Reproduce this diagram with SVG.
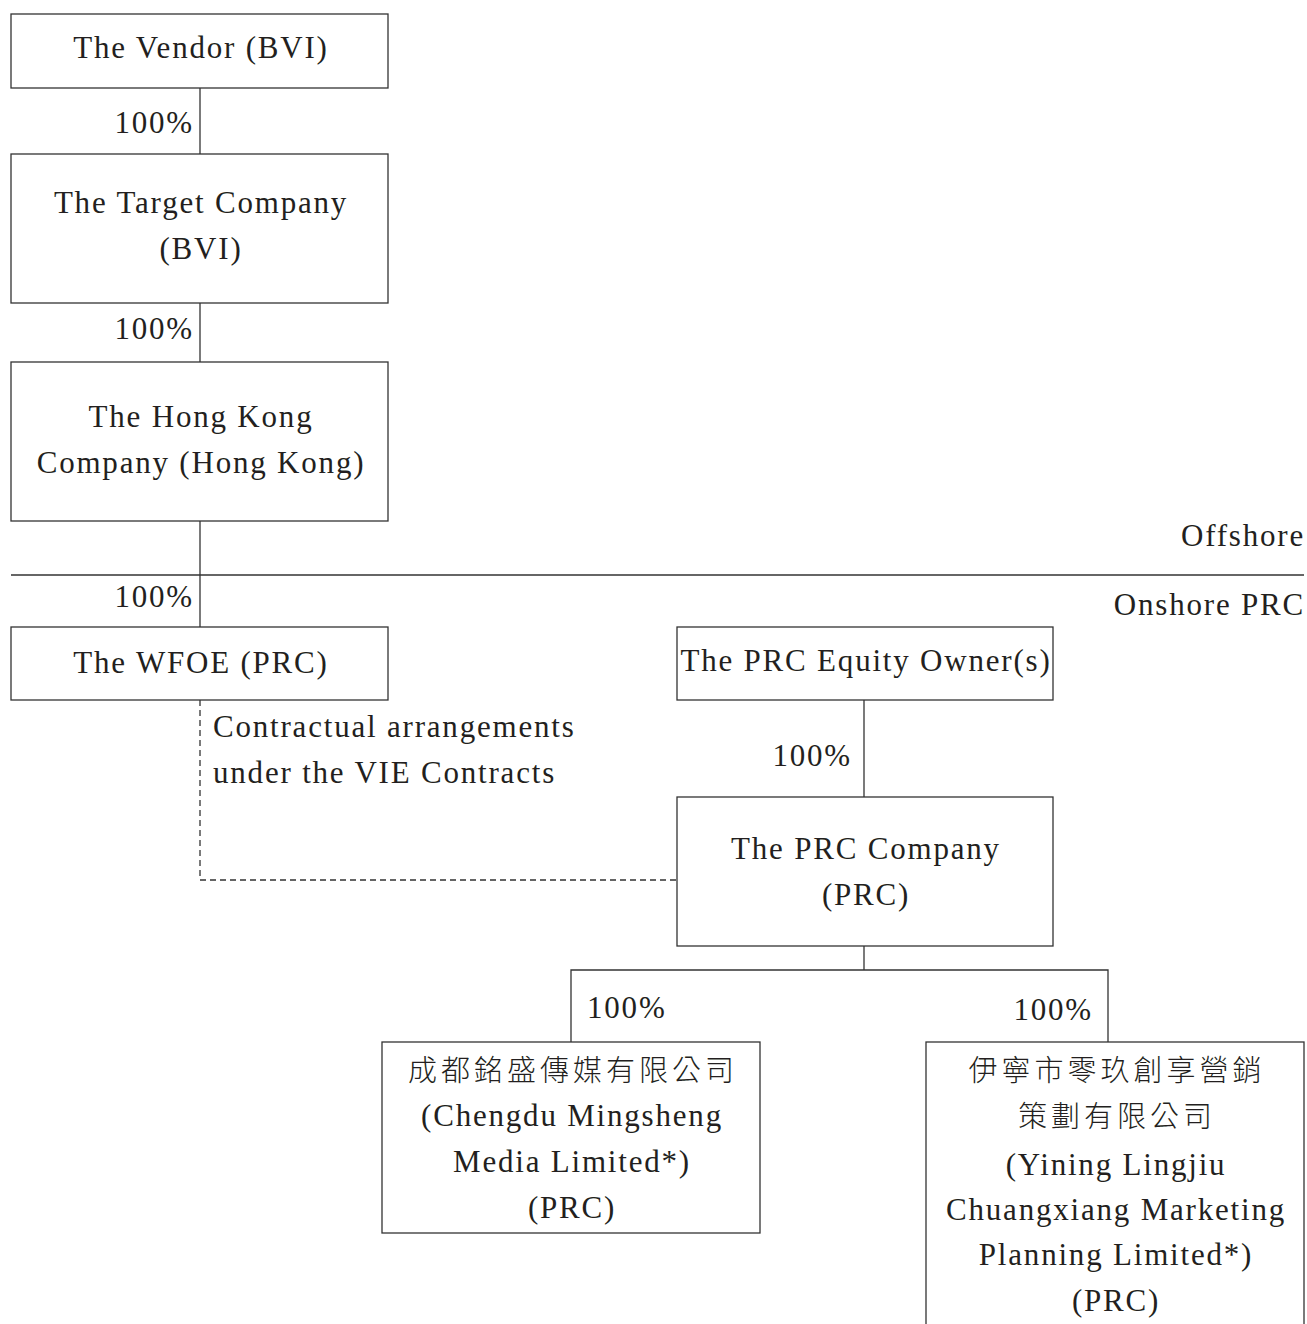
<svg xmlns="http://www.w3.org/2000/svg" width="1307" height="1324" viewBox="0 0 1307 1324">
<style>
text{font-family:"Liberation Serif","Noto Sans CJK TC",serif;font-size:31px;fill:#231f20;letter-spacing:1.8px}
.c{text-anchor:middle}
.r{text-anchor:end}
.cjk{font-family:"Noto Sans CJK TC","Liberation Serif",sans-serif;font-size:29px;letter-spacing:4px;font-weight:300}
.box{fill:#fff;stroke:#333;stroke-width:1.3}
.ln{stroke:#333;stroke-width:1.3;fill:none}
.dash{stroke:#333;stroke-width:1.3;fill:none;stroke-dasharray:6 4}
</style>
<rect width="1307" height="1324" fill="#fff"/>
<g id="connectors">
<line class="ln" x1="200" y1="88" x2="200" y2="154"/>
<line class="ln" x1="200" y1="303" x2="200" y2="362"/>
<line class="ln" x1="200" y1="521" x2="200" y2="627"/>
<line class="ln" x1="11" y1="575" x2="1304" y2="575"/>
<line class="ln" x1="864" y1="700" x2="864" y2="797"/>
<polyline class="dash" points="200,700 200,880 677,880"/>
<polyline class="ln" points="571,1042 571,970 1108,970 1108,1042"/>
<line class="ln" x1="864" y1="946" x2="864" y2="970"/>
<text class="r" x="194" y="133">100%</text>
<text class="r" x="194" y="339">100%</text>
<text class="r" x="194" y="607">100%</text>
<text class="r" x="852" y="766">100%</text>
<text x="587" y="1018">100%</text>
<text class="r" x="1093" y="1020">100%</text>
<text x="213" y="737">Contractual arrangements</text>
<text x="213" y="783">under the VIE Contracts</text>
<text class="r" x="1305" y="546">Offshore</text>
<text class="r" x="1305" y="615">Onshore PRC</text>
</g>
<g id="vendor">
<rect class="box" x="11" y="14" width="377" height="74"/>
<text class="c" x="201" y="58">The Vendor (BVI)</text>
</g>
<g id="target">
<rect class="box" x="11" y="154" width="377" height="149"/>
<text class="c" x="201" y="213">The Target Company</text>
<text class="c" x="201" y="259">(BVI)</text>
</g>
<g id="hk">
<rect class="box" x="11" y="362" width="377" height="159"/>
<text class="c" x="201" y="427">The Hong Kong</text>
<text class="c" x="201" y="473">Company (Hong Kong)</text>
</g>
<g id="wfoe">
<rect class="box" x="11" y="627" width="377" height="73"/>
<text class="c" x="201" y="673">The WFOE (PRC)</text>
</g>
<g id="equity">
<rect class="box" x="677" y="627" width="376" height="73"/>
<text class="c" x="866" y="671">The PRC Equity Owner(s)</text>
</g>
<g id="prc">
<rect class="box" x="677" y="797" width="376" height="149"/>
<text class="c" x="866" y="859">The PRC Company</text>
<text class="c" x="866" y="905">(PRC)</text>
</g>
<g id="chengdu">
<rect class="box" x="382" y="1042" width="378" height="191"/>
<text class="c cjk" x="573" y="1081">成都銘盛傳媒有限公司</text>
<text class="c" x="572" y="1126">(Chengdu Mingsheng</text>
<text class="c" x="572" y="1172">Media Limited*)</text>
<text class="c" x="572" y="1218">(PRC)</text>
</g>
<g id="yining">
<rect class="box" x="926" y="1042" width="378" height="290"/>
<text class="c cjk" x="1117" y="1081">伊寧市零玖創享營銷</text>
<text class="c cjk" x="1117" y="1127">策劃有限公司</text>
<text class="c" x="1116" y="1175">(Yining Lingjiu</text>
<text class="c" x="1116" y="1220">Chuangxiang Marketing</text>
<text class="c" x="1116" y="1265">Planning Limited*)</text>
<text class="c" x="1116" y="1311">(PRC)</text>
</g>
</svg>
